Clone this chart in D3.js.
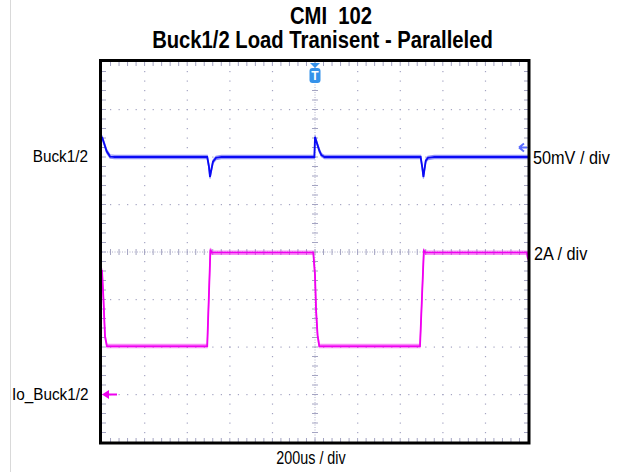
<!DOCTYPE html>
<html><head><meta charset="utf-8">
<script src="https://cdn.jsdelivr.net/npm/d3@7"></script>
<style>html,body{margin:0;padding:0;background:#fff;}svg{display:block;} text{white-space:pre;}</style>
</head><body>
<svg id="chart" width="619" height="472"></svg>
<script>
// ---- data (time in µs, trigger at 0) ----
const titleLines = ["CMI  102", "Buck1/2 Load Tranisent - Paralleled"];
const timeDomain = [-1000, 1000];           // 10 div x 200us
const timeLabel = "200us / div";
const chNames = ["Buck1/2", "Io_Buck1/2"];
const chScales = ["50mV / div", "2A / div"];
const chOffsetsDiv = [2, -3];               // channel reference positions (div)
const chPerDiv = [50, 2];                   // mV/div, A/div

// Buck1/2 output voltage deviation (mV)
const vTime = [-1000, -991, -978, -962, -940, -700, -506, -498, -493, -488, -479, -465, -440, -200, -3, 0, 10, 20, 30, 45, 250, 496, 503, 509, 514, 520, 530, 560, 800, 1000];
const vMv   = [21, 15, 6, 0.5, 0, 0, 0, -10, -21, -15, -5, -1, 0, 0, 0, 21, 14, 7, 2, 0, 0, 0, -10, -21, -13, -4, -1, 0, 0, 0];

// Io_Buck1/2 load current (A)
const iTime = [-1000, -993, -986, -977, -700, -506, -491, -485, -200, -8, 0, 5, 12, 20, 250, 493, 511, 520, 800, 995, 1000];
const iAmp  = [5.24, 3.98, 2.46, 2.04, 2.04, 2.04, 6.1, 5.97, 5.97, 5.97, 5.03, 3.56, 2.5, 2.04, 2.04, 2.04, 6.05, 5.97, 5.97, 5.97, 5.7];

// ---- layout ----
const svg = d3.select("#chart");
const L = 102, R = 528, T = 62, B = 442;
const x = d3.scaleLinear().domain(timeDomain).range([L, R]);
const y = d3.scaleLinear().domain([-4, 4]).range([B, T]);
const gridCol = "#a4a4c2";

// light page border line
svg.append("line").attr("x1", 10.5).attr("x2", 10.5).attr("y1", 0).attr("y2", 472)
  .attr("stroke", "#d9d9d9").attr("stroke-width", 1);

// ---- grid ----
const g = svg.append("g");
const xMinor = d3.range(-1000, 1000.001, 40);
const yMinor = d3.range(-4, 4.001, 0.2);
const xMajor = d3.range(-800, 801, 200);
const yMajor = d3.range(-3, 3.01, 1);
xMajor.filter(d => d !== 0).forEach(t => {
  g.selectAll(null).data(yMinor.slice(1, -1)).enter().append("rect")
    .attr("x", x(t) - 0.5).attr("y", d => y(d) - 0.5).attr("width", 1.2).attr("height", 1.2)
    .attr("fill", gridCol);
});
yMajor.filter(d => d !== 0).forEach(v => {
  g.selectAll(null).data(xMinor.slice(1, -1)).enter().append("rect")
    .attr("x", d => x(d) - 0.5).attr("y", y(v) - 0.5).attr("width", 1.2).attr("height", 1.2)
    .attr("fill", gridCol);
});
g.append("line").attr("x1", L).attr("x2", R).attr("y1", y(0)).attr("y2", y(0))
  .attr("stroke", gridCol).attr("stroke-width", 1).attr("stroke-dasharray", "1,1.5").attr("opacity", 0.85);
g.append("line").attr("x1", x(0)).attr("x2", x(0)).attr("y1", T).attr("y2", B)
  .attr("stroke", gridCol).attr("stroke-width", 1).attr("stroke-dasharray", "1,1.5").attr("opacity", 0.85);
g.selectAll(null).data(xMinor.slice(1, -1)).enter().append("line")
  .attr("x1", d => x(d)).attr("x2", d => x(d)).attr("y1", y(0) - 3).attr("y2", y(0) + 3)
  .attr("stroke", gridCol).attr("stroke-width", 1);
g.selectAll(null).data(yMinor.slice(1, -1)).enter().append("line")
  .attr("x1", x(0) - 3).attr("x2", x(0) + 3).attr("y1", d => y(d)).attr("y2", d => y(d))
  .attr("stroke", gridCol).attr("stroke-width", 1);
g.selectAll(null).data(xMinor.slice(1, -1)).enter().append("line")
  .attr("x1", d => x(d)).attr("x2", d => x(d)).attr("y1", T).attr("y2", T + 4)
  .attr("stroke", gridCol).attr("stroke-width", 1);
g.selectAll(null).data(xMinor.slice(1, -1)).enter().append("line")
  .attr("x1", d => x(d)).attr("x2", d => x(d)).attr("y1", B - 4).attr("y2", B)
  .attr("stroke", gridCol).attr("stroke-width", 1);
g.selectAll(null).data(yMinor.slice(1, -1)).enter().append("line")
  .attr("x1", L).attr("x2", L + 4).attr("y1", d => y(d)).attr("y2", d => y(d))
  .attr("stroke", gridCol).attr("stroke-width", 1);
g.selectAll(null).data(yMinor.slice(1, -1)).enter().append("line")
  .attr("x1", R - 4).attr("x2", R).attr("y1", d => y(d)).attr("y2", d => y(d))
  .attr("stroke", gridCol).attr("stroke-width", 1);

// ---- traces ----
const line = d3.line().x(d => x(d[0])).y(d => y(d[1]));
function trace(times, vals, ch, color) {
  const pts = times.map((t, i) => [t, chOffsetsDiv[ch] + vals[i] / chPerDiv[ch]]);
  const tg = svg.append("g");
  [-1.6, 1.6].forEach(dy => {
    tg.append("path").datum(pts).attr("d", line).attr("transform", `translate(0,${dy})`)
      .attr("fill", "none").attr("stroke", color).attr("stroke-width", 1.2).attr("opacity", 0.45);
  });
  tg.append("path").datum(pts).attr("d", line)
    .attr("fill", "none").attr("stroke", color).attr("stroke-width", 1.8);
}
trace(vTime, vMv, 0, "#0a0af5");
trace(iTime, iAmp, 1, "#f000f0");

// ---- frame ----
svg.append("rect").attr("x", L - 1.5).attr("y", T - 1.5).attr("width", R - L + 2.5).attr("height", B - T + 2.5)
  .attr("fill", "none").attr("stroke", "#000").attr("stroke-width", 3);

// ---- trigger marker ----
const tx = x(0);
const trig = svg.append("g").attr("fill", "#3592ea");
trig.append("path").attr("d", `M${tx - 5},${T + 1} L${tx + 5},${T + 1} L${tx},${T + 6} Z`);
trig.append("rect").attr("x", tx - 5.5).attr("y", T + 6).attr("width", 11).attr("height", 15).attr("rx", 3);
trig.append("text").attr("x", tx).attr("y", T + 18).attr("text-anchor", "middle")
  .attr("font-family", "Liberation Sans, Arial, sans-serif").attr("font-weight", "bold")
  .attr("font-size", 12).attr("fill", "#fff").text("T");

// ---- channel reference markers ----
const vRefY = y(chOffsetsDiv[0] + 0.2);
svg.append("path").attr("d", `M${R - 9},${vRefY} l5,-4 M${R - 9},${vRefY} l5,4 M${R - 9},${vRefY} L${R - 1},${vRefY}`)
  .attr("stroke", "#5a6cff").attr("stroke-width", 2).attr("fill", "none");
const iRefY = y(chOffsetsDiv[1]);
svg.append("path").attr("d", `M${L},${iRefY} l7,-4.5 l0,9 Z`).attr("fill", "#ee00ee");
svg.append("line").attr("x1", L + 6).attr("x2", L + 15).attr("y1", iRefY).attr("y2", iRefY)
  .attr("stroke", "#ee00ee").attr("stroke-width", 2);

// ---- text ----
const font = "Liberation Sans, Arial, sans-serif";
function label(txt, px, py, anchor, size, weight, sx) {
  svg.append("text").attr("transform", `translate(${px},${py}) scale(${sx},1)`)
    .attr("text-anchor", anchor).attr("font-family", font).attr("font-size", size)
    .attr("font-weight", weight).attr("fill", "#000").attr("xml:space", "preserve").text(txt);
}
label(titleLines[0], 331, 23.5, "middle", 23, "bold", 0.88);
label(titleLines[1], 322.5, 48, "middle", 23, "bold", 0.88);
label(chNames[0], 88, 162, "end", 17, "normal", 0.9);
label(chNames[1], 88.5, 400, "end", 17, "normal", 0.9);
label(chScales[0], 533, 164, "start", 17.5, "normal", 0.93);
label(chScales[1], 534, 260, "start", 17.5, "normal", 0.93);
label(timeLabel, 311, 464, "middle", 17.5, "normal", 0.82);
</script>
</body></html>
